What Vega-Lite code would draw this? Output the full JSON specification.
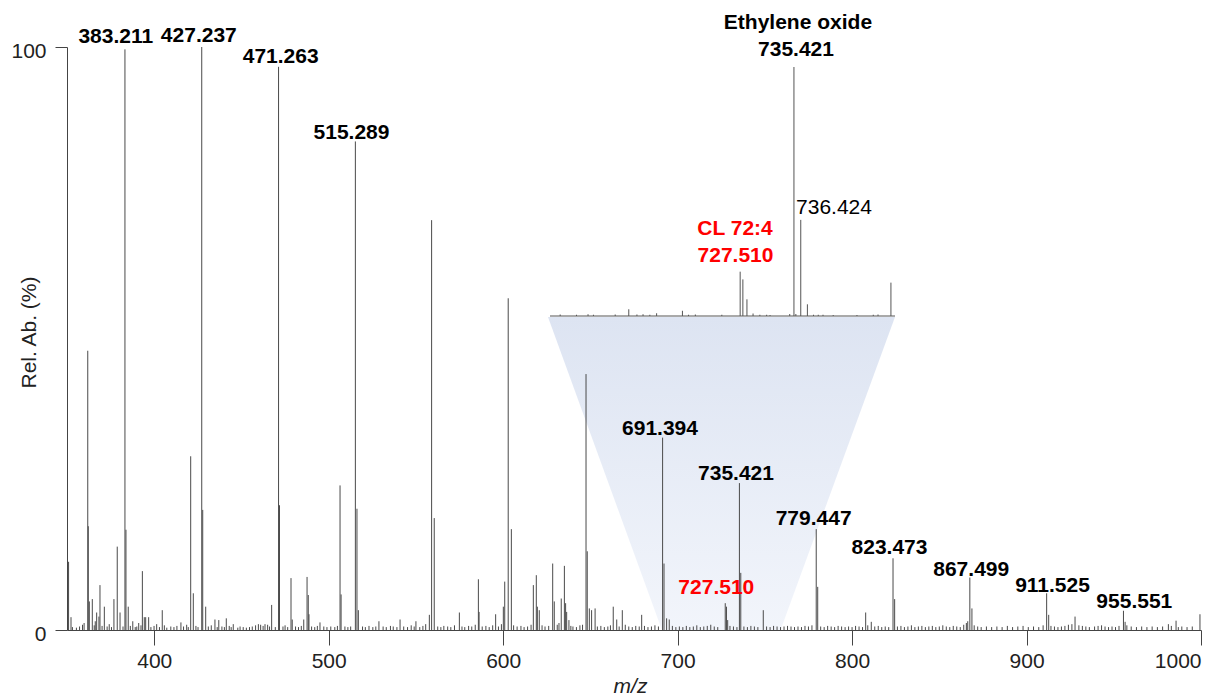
{
  "$schema": "https://vega.github.io/schema/vega-lite/v6.json",
  "width": 1134,
  "height": 583,
  "autosize": {"type": "none"},
  "padding": {"left": 67, "top": 47, "right": 24, "bottom": 68},
  "background": "white",
  "config": {"view": {"stroke": null}, "font": "Liberation Sans"},
  "datasets": {
    "peaks": [
      {"mz": 350.9, "ab": 11.7}, {"mz": 352.3, "ab": 2.2}, {"mz": 361.9, "ab": 47.9}, {"mz": 362.2, "ab": 17.8},
      {"mz": 362.8, "ab": 4.9}, {"mz": 364.5, "ab": 5.3}, {"mz": 367.0, "ab": 3.0}, {"mz": 368.3, "ab": 2.3},
      {"mz": 368.9, "ab": 7.7}, {"mz": 371.4, "ab": 4.0}, {"mz": 376.9, "ab": 5.3}, {"mz": 378.8, "ab": 14.3},
      {"mz": 380.4, "ab": 3.0}, {"mz": 383.211, "ab": 99.6}, {"mz": 383.8, "ab": 17.2}, {"mz": 385.1, "ab": 4.0},
      {"mz": 387.7, "ab": 1.5}, {"mz": 391.1, "ab": 1.2}, {"mz": 393.2, "ab": 10.1}, {"mz": 394.3, "ab": 2.2},
      {"mz": 395.1, "ab": 2.2}, {"mz": 396.8, "ab": 2.2}, {"mz": 401.4, "ab": 1.0}, {"mz": 404.6, "ab": 3.4},
      {"mz": 415.3, "ab": 1.3}, {"mz": 418.6, "ab": 0.9}, {"mz": 420.9, "ab": 29.8}, {"mz": 422.4, "ab": 6.3},
      {"mz": 427.237, "ab": 100}, {"mz": 427.8, "ab": 20.6}, {"mz": 429.5, "ab": 4.0}, {"mz": 434.8, "ab": 1.8},
      {"mz": 437.0, "ab": 1.7}, {"mz": 441.3, "ab": 2.0}, {"mz": 445.3, "ab": 1.0}, {"mz": 459.7, "ab": 1.0},
      {"mz": 463.5, "ab": 1.0}, {"mz": 467.3, "ab": 4.3}, {"mz": 471.263, "ab": 96.6}, {"mz": 471.8, "ab": 21.4},
      {"mz": 478.4, "ab": 8.9}, {"mz": 479.1, "ab": 1.8}, {"mz": 485.7, "ab": 1.8}, {"mz": 487.6, "ab": 9.1},
      {"mz": 488.3, "ab": 6.0}, {"mz": 488.7, "ab": 2.7}, {"mz": 495.0, "ab": 1.3}, {"mz": 506.5, "ab": 24.8},
      {"mz": 507.1, "ab": 6.1}, {"mz": 515.289, "ab": 83.8}, {"mz": 516.2, "ab": 20.8}, {"mz": 517.0, "ab": 3.4},
      {"mz": 528.8, "ab": 1.5}, {"mz": 540.9, "ab": 1.8}, {"mz": 550.0, "ab": 1.5}, {"mz": 557.7, "ab": 2.6},
      {"mz": 559.0, "ab": 70.3}, {"mz": 560.5, "ab": 19.2}, {"mz": 574.9, "ab": 3.0}, {"mz": 585.8, "ab": 8.7},
      {"mz": 586.2, "ab": 3.1}, {"mz": 595.7, "ab": 2.7}, {"mz": 600.1, "ab": 4.0}, {"mz": 600.9, "ab": 8.3},
      {"mz": 602.9, "ab": 56.9}, {"mz": 604.7, "ab": 17.3}, {"mz": 617.3, "ab": 7.7}, {"mz": 619.0, "ab": 9.4},
      {"mz": 619.6, "ab": 4.0}, {"mz": 620.7, "ab": 3.4}, {"mz": 628.4, "ab": 11.4}, {"mz": 629.3, "ab": 4.9},
      {"mz": 633.3, "ab": 5.4}, {"mz": 635.1, "ab": 11.0}, {"mz": 635.8, "ab": 4.6}, {"mz": 636.4, "ab": 3.1},
      {"mz": 637.7, "ab": 1.7}, {"mz": 647.5, "ab": 43.9}, {"mz": 648.2, "ab": 13.5}, {"mz": 649.4, "ab": 3.7},
      {"mz": 650.7, "ab": 3.4}, {"mz": 652.7, "ab": 3.7}, {"mz": 663.1, "ab": 4.0}, {"mz": 665.1, "ab": 1.8},
      {"mz": 668.3, "ab": 3.4}, {"mz": 679.4, "ab": 2.6}, {"mz": 691.394, "ab": 33.0}, {"mz": 692.2, "ab": 11.4},
      {"mz": 693.7, "ab": 2.0}, {"mz": 695.2, "ab": 1.8}, {"mz": 727.3, "ab": 4.6}, {"mz": 728.0, "ab": 4.0},
      {"mz": 728.7, "ab": 1.7}, {"mz": 735.421, "ab": 25.2}, {"mz": 736.2, "ab": 9.8}, {"mz": 749.1, "ab": 3.4},
      {"mz": 779.447, "ab": 17.3}, {"mz": 780.3, "ab": 7.4}, {"mz": 807.8, "ab": 3.0}, {"mz": 811.0, "ab": 1.4},
      {"mz": 823.473, "ab": 12.3}, {"mz": 824.4, "ab": 5.3}, {"mz": 866.3, "ab": 1.5}, {"mz": 867.499, "ab": 9.0},
      {"mz": 868.7, "ab": 3.7}, {"mz": 911.525, "ab": 6.3}, {"mz": 912.7, "ab": 2.6}, {"mz": 927.8, "ab": 2.3},
      {"mz": 955.551, "ab": 3.3}, {"mz": 956.5, "ab": 1.4}, {"mz": 981.3, "ab": 1.0}, {"mz": 985.7, "ab": 1.6},
      {"mz": 999.4, "ab": 2.7},
      {"mz": 353.1, "ab": 0.5}, {"mz": 355.4, "ab": 0.4}, {"mz": 357.2, "ab": 0.6}, {"mz": 358.9, "ab": 0.9},
      {"mz": 359.8, "ab": 1.2}, {"mz": 365.6, "ab": 0.8}, {"mz": 366.2, "ab": 1.5}, {"mz": 370.1, "ab": 0.7},
      {"mz": 373.0, "ab": 0.6}, {"mz": 374.2, "ab": 1.0}, {"mz": 375.5, "ab": 0.5}, {"mz": 382.1, "ab": 0.6},
      {"mz": 386.3, "ab": 0.7}, {"mz": 389.1, "ab": 0.5}, {"mz": 390.0, "ab": 0.6}, {"mz": 392.4, "ab": 0.8},
      {"mz": 398.1, "ab": 0.5}, {"mz": 399.9, "ab": 0.7}, {"mz": 403.0, "ab": 0.5}, {"mz": 405.8, "ab": 0.8},
      {"mz": 407.2, "ab": 0.4}, {"mz": 409.5, "ab": 0.6}, {"mz": 411.3, "ab": 0.5}, {"mz": 413.0, "ab": 0.7},
      {"mz": 416.8, "ab": 0.6}, {"mz": 419.5, "ab": 0.5}, {"mz": 423.9, "ab": 0.7}, {"mz": 425.1, "ab": 0.5},
      {"mz": 431.0, "ab": 0.6}, {"mz": 432.7, "ab": 0.8}, {"mz": 436.1, "ab": 0.5}, {"mz": 438.8, "ab": 0.6},
      {"mz": 440.2, "ab": 0.5}, {"mz": 443.0, "ab": 0.7}, {"mz": 444.1, "ab": 0.5}, {"mz": 447.9, "ab": 0.4},
      {"mz": 449.2, "ab": 0.6}, {"mz": 451.0, "ab": 0.5}, {"mz": 452.8, "ab": 0.4}, {"mz": 454.6, "ab": 0.5},
      {"mz": 456.2, "ab": 0.6}, {"mz": 458.1, "ab": 0.8}, {"mz": 461.0, "ab": 0.9}, {"mz": 462.4, "ab": 0.7},
      {"mz": 465.0, "ab": 0.9}, {"mz": 466.1, "ab": 0.6}, {"mz": 469.4, "ab": 0.5}, {"mz": 473.8, "ab": 0.6},
      {"mz": 475.0, "ab": 0.8}, {"mz": 476.5, "ab": 0.5}, {"mz": 481.0, "ab": 0.6}, {"mz": 482.7, "ab": 0.5},
      {"mz": 484.3, "ab": 0.7}, {"mz": 490.2, "ab": 0.6}, {"mz": 492.0, "ab": 0.5}, {"mz": 493.5, "ab": 0.7},
      {"mz": 497.2, "ab": 0.6}, {"mz": 499.0, "ab": 0.5}, {"mz": 501.2, "ab": 0.6}, {"mz": 503.5, "ab": 0.5},
      {"mz": 505.0, "ab": 0.7}, {"mz": 509.3, "ab": 0.6}, {"mz": 511.0, "ab": 0.5}, {"mz": 512.6, "ab": 0.6},
      {"mz": 519.4, "ab": 0.6}, {"mz": 521.0, "ab": 0.5}, {"mz": 523.1, "ab": 0.7}, {"mz": 525.3, "ab": 0.5},
      {"mz": 527.0, "ab": 0.6}, {"mz": 531.2, "ab": 0.6}, {"mz": 533.0, "ab": 0.5}, {"mz": 535.4, "ab": 0.7},
      {"mz": 537.0, "ab": 0.6}, {"mz": 539.1, "ab": 0.5}, {"mz": 543.0, "ab": 0.6}, {"mz": 545.2, "ab": 0.5},
      {"mz": 547.3, "ab": 0.8}, {"mz": 549.0, "ab": 0.6}, {"mz": 552.2, "ab": 0.5}, {"mz": 554.0, "ab": 0.7},
      {"mz": 555.6, "ab": 1.0}, {"mz": 562.5, "ab": 0.6}, {"mz": 564.3, "ab": 0.5}, {"mz": 566.0, "ab": 0.7},
      {"mz": 568.2, "ab": 0.6}, {"mz": 570.0, "ab": 0.5}, {"mz": 572.1, "ab": 0.8}, {"mz": 576.4, "ab": 0.6},
      {"mz": 578.0, "ab": 0.5}, {"mz": 580.2, "ab": 0.7}, {"mz": 582.0, "ab": 0.6}, {"mz": 584.0, "ab": 0.9},
      {"mz": 588.0, "ab": 0.6}, {"mz": 590.1, "ab": 0.7}, {"mz": 592.0, "ab": 0.5}, {"mz": 594.0, "ab": 0.8},
      {"mz": 597.3, "ab": 0.6}, {"mz": 599.0, "ab": 1.0}, {"mz": 606.0, "ab": 0.8}, {"mz": 608.0, "ab": 0.6},
      {"mz": 610.2, "ab": 0.7}, {"mz": 612.0, "ab": 0.5}, {"mz": 614.0, "ab": 0.6}, {"mz": 616.0, "ab": 0.9},
      {"mz": 622.3, "ab": 0.8}, {"mz": 624.0, "ab": 0.6}, {"mz": 626.1, "ab": 0.7}, {"mz": 631.0, "ab": 0.9},
      {"mz": 632.0, "ab": 1.2}, {"mz": 638.8, "ab": 0.7}, {"mz": 640.0, "ab": 0.6}, {"mz": 642.0, "ab": 0.5},
      {"mz": 644.0, "ab": 0.8}, {"mz": 645.5, "ab": 0.9}, {"mz": 654.0, "ab": 0.6}, {"mz": 656.0, "ab": 0.7},
      {"mz": 658.0, "ab": 0.5}, {"mz": 660.0, "ab": 0.6}, {"mz": 661.5, "ab": 0.8}, {"mz": 666.5, "ab": 0.6},
      {"mz": 670.0, "ab": 0.9}, {"mz": 672.0, "ab": 0.6}, {"mz": 674.0, "ab": 0.5}, {"mz": 676.0, "ab": 0.7},
      {"mz": 678.0, "ab": 0.6}, {"mz": 681.0, "ab": 0.7}, {"mz": 683.0, "ab": 0.5}, {"mz": 685.0, "ab": 0.6},
      {"mz": 687.0, "ab": 0.8}, {"mz": 689.0, "ab": 0.6}, {"mz": 697.0, "ab": 0.7}, {"mz": 699.0, "ab": 0.5},
      {"mz": 701.0, "ab": 0.6}, {"mz": 703.0, "ab": 0.5}, {"mz": 705.0, "ab": 0.7}, {"mz": 707.0, "ab": 0.5},
      {"mz": 709.0, "ab": 0.6}, {"mz": 711.0, "ab": 0.8}, {"mz": 713.0, "ab": 0.5}, {"mz": 715.0, "ab": 0.6},
      {"mz": 717.0, "ab": 0.7}, {"mz": 719.0, "ab": 0.9}, {"mz": 721.0, "ab": 0.6}, {"mz": 723.0, "ab": 0.5},
      {"mz": 730.0, "ab": 0.7}, {"mz": 732.0, "ab": 0.6}, {"mz": 734.0, "ab": 0.5}, {"mz": 738.0, "ab": 0.6},
      {"mz": 740.0, "ab": 0.5}, {"mz": 742.0, "ab": 0.7}, {"mz": 744.0, "ab": 0.6}, {"mz": 746.0, "ab": 0.5},
      {"mz": 751.0, "ab": 0.6}, {"mz": 753.0, "ab": 0.5}, {"mz": 755.0, "ab": 0.7}, {"mz": 757.0, "ab": 0.6},
      {"mz": 759.0, "ab": 0.5}, {"mz": 761.0, "ab": 0.6}, {"mz": 763.0, "ab": 0.7}, {"mz": 765.0, "ab": 0.6},
      {"mz": 767.0, "ab": 0.5}, {"mz": 769.0, "ab": 0.6}, {"mz": 771.0, "ab": 0.5}, {"mz": 773.0, "ab": 0.7},
      {"mz": 775.0, "ab": 0.6}, {"mz": 777.0, "ab": 0.8}, {"mz": 782.0, "ab": 0.6}, {"mz": 784.0, "ab": 0.5},
      {"mz": 786.0, "ab": 0.7}, {"mz": 788.0, "ab": 0.6}, {"mz": 790.0, "ab": 0.5}, {"mz": 792.0, "ab": 0.7},
      {"mz": 794.0, "ab": 0.6}, {"mz": 796.0, "ab": 0.5}, {"mz": 798.0, "ab": 0.6}, {"mz": 800.0, "ab": 0.5},
      {"mz": 802.0, "ab": 0.7}, {"mz": 804.0, "ab": 0.6}, {"mz": 806.0, "ab": 0.5}, {"mz": 809.0, "ab": 0.8},
      {"mz": 813.0, "ab": 0.6}, {"mz": 815.0, "ab": 0.7}, {"mz": 817.0, "ab": 0.5}, {"mz": 819.0, "ab": 0.6},
      {"mz": 821.0, "ab": 0.5}, {"mz": 826.0, "ab": 0.6}, {"mz": 828.0, "ab": 0.7}, {"mz": 830.0, "ab": 0.5},
      {"mz": 832.0, "ab": 0.6}, {"mz": 834.0, "ab": 0.8}, {"mz": 836.0, "ab": 0.5}, {"mz": 838.0, "ab": 0.6},
      {"mz": 840.0, "ab": 0.7}, {"mz": 842.0, "ab": 0.5}, {"mz": 844.0, "ab": 0.6}, {"mz": 846.0, "ab": 0.7},
      {"mz": 848.0, "ab": 0.5}, {"mz": 850.0, "ab": 0.6}, {"mz": 852.0, "ab": 0.8}, {"mz": 854.0, "ab": 0.6},
      {"mz": 856.0, "ab": 0.5}, {"mz": 858.0, "ab": 0.7}, {"mz": 860.0, "ab": 0.6}, {"mz": 862.0, "ab": 0.5},
      {"mz": 864.0, "ab": 0.9}, {"mz": 865.5, "ab": 1.2}, {"mz": 870.0, "ab": 0.8}, {"mz": 872.0, "ab": 0.6},
      {"mz": 874.0, "ab": 0.5}, {"mz": 877.0, "ab": 0.6}, {"mz": 880.0, "ab": 0.5}, {"mz": 883.0, "ab": 0.6},
      {"mz": 886.0, "ab": 0.5}, {"mz": 889.0, "ab": 0.7}, {"mz": 892.0, "ab": 0.5}, {"mz": 895.0, "ab": 0.6},
      {"mz": 898.0, "ab": 0.7}, {"mz": 901.0, "ab": 0.5}, {"mz": 904.0, "ab": 0.6}, {"mz": 907.0, "ab": 0.5},
      {"mz": 909.5, "ab": 0.8}, {"mz": 914.0, "ab": 0.7}, {"mz": 916.0, "ab": 0.6}, {"mz": 918.0, "ab": 0.5},
      {"mz": 920.0, "ab": 0.6}, {"mz": 922.0, "ab": 0.7}, {"mz": 924.0, "ab": 0.9}, {"mz": 926.0, "ab": 1.0},
      {"mz": 930.0, "ab": 0.8}, {"mz": 932.0, "ab": 0.7}, {"mz": 934.0, "ab": 0.6}, {"mz": 936.0, "ab": 0.5},
      {"mz": 939.0, "ab": 0.6}, {"mz": 941.0, "ab": 0.7}, {"mz": 943.0, "ab": 0.8}, {"mz": 945.0, "ab": 0.6},
      {"mz": 947.0, "ab": 0.5}, {"mz": 949.0, "ab": 0.6}, {"mz": 951.0, "ab": 0.5}, {"mz": 953.0, "ab": 0.7},
      {"mz": 957.5, "ab": 0.8}, {"mz": 960.0, "ab": 0.6}, {"mz": 963.0, "ab": 0.5}, {"mz": 966.0, "ab": 0.6},
      {"mz": 969.0, "ab": 0.5}, {"mz": 972.0, "ab": 0.6}, {"mz": 975.0, "ab": 0.5}, {"mz": 978.0, "ab": 0.6},
      {"mz": 983.0, "ab": 0.7}, {"mz": 987.0, "ab": 0.5}, {"mz": 989.0, "ab": 0.6}, {"mz": 992.0, "ab": 0.5},
      {"mz": 995.0, "ab": 0.6}
    ],
    "funnel": [
      {"fy": 0, "fl": 691.0, "fr": 759.0},
      {"fy": 53.7, "fl": 625.7, "fr": 824.6}
    ],
    "labels": [
      {"t": "383.211", "lx": 377.97, "ly": 101.7, "c": "k"},
      {"t": "427.237", "lx": 425.55, "ly": 101.9, "c": "k"},
      {"t": "471.263", "lx": 472.49, "ly": 98.2, "c": "k"},
      {"t": "515.289", "lx": 513.07, "ly": 85.3, "c": "k"},
      {"t": "Ethylene oxide", "lx": 768.98, "ly": 104.1, "c": "k"},
      {"t": "735.421", "lx": 767.86, "ly": 99.5, "c": "k"},
      {"t": "CL 72:4", "lx": 732.89, "ly": 68.8, "c": "r"},
      {"t": "727.510", "lx": 733.18, "ly": 64.2, "c": "r"},
      {"t": "691.394", "lx": 689.9, "ly": 34.5, "c": "k"},
      {"t": "735.421", "lx": 733.46, "ly": 26.8, "c": "k"},
      {"t": "727.510", "lx": 722.17, "ly": 7.2, "c": "r"},
      {"t": "779.447", "lx": 777.97, "ly": 19.0, "c": "k"},
      {"t": "823.473", "lx": 821.46, "ly": 14.0, "c": "k"},
      {"t": "867.499", "lx": 868.29, "ly": 10.3, "c": "k"},
      {"t": "911.525", "lx": 914.89, "ly": 7.6, "c": "k"},
      {"t": "955.551", "lx": 961.78, "ly": 4.8, "c": "k"}
    ],
    "plainlabels": [
      {"t": "736.424", "lx": 789.64, "ly": 72.4}
    ],
    "inset": [
      {"imz": 701.0, "iab": 0.6}, {"imz": 703.4, "iab": 0.5}, {"imz": 705.1, "iab": 0.7}, {"imz": 705.9, "iab": 0.5},
      {"imz": 709.1, "iab": 0.6}, {"imz": 711.1, "iab": 2.7}, {"imz": 712.3, "iab": 0.6}, {"imz": 713.2, "iab": 0.7},
      {"imz": 714.2, "iab": 0.5}, {"imz": 715.2, "iab": 1.1}, {"imz": 719.0, "iab": 2.1}, {"imz": 719.9, "iab": 0.5},
      {"imz": 720.9, "iab": 0.6}, {"imz": 724.8, "iab": 0.5}, {"imz": 727.5, "iab": 17.8}, {"imz": 727.9, "iab": 14.7},
      {"imz": 728.5, "iab": 6.7}, {"imz": 729.4, "iab": 1.0}, {"imz": 730.4, "iab": 0.5}, {"imz": 731.4, "iab": 0.5},
      {"imz": 731.9, "iab": 0.4}, {"imz": 734.8, "iab": 0.8}, {"imz": 735.421, "iab": 100}, {"imz": 735.7, "iab": 0.8},
      {"imz": 736.424, "iab": 38.6}, {"imz": 737.4, "iab": 4.7}, {"imz": 738.3, "iab": 0.5}, {"imz": 739.0, "iab": 0.5},
      {"imz": 739.7, "iab": 0.5}, {"imz": 741.2, "iab": 0.4}, {"imz": 744.7, "iab": 0.4}, {"imz": 747.1, "iab": 0.5},
      {"imz": 747.8, "iab": 0.6}, {"imz": 749.7, "iab": 13.4}
    ]
  },
  "layer": [
    {
      "layer": [
        {
          "data": {"name": "funnel"},
          "mark": {
            "type": "area",
            "orient": "horizontal",
            "color": {
              "gradient": "linear",
              "x1": 0, "y1": 0, "x2": 0, "y2": 1,
              "stops": [
                {"offset": 0, "color": "#dde4f2"},
                {"offset": 1, "color": "#f2f5fb"}
              ]
            }
          },
          "encoding": {
            "y": {"field": "fy", "type": "quantitative", "title": "Rel. Ab. (%)", "scale": {"domain": [0, 100], "nice": false, "zero": false}},
            "x": {"field": "fl", "type": "quantitative", "title": "m/z", "scale": {"domain": [350, 1000], "nice": false, "zero": false}},
            "x2": {"field": "fr"}
          }
        },
        {
          "data": {"name": "peaks"},
          "mark": {"type": "rule", "color": "#4a4a4a", "strokeWidth": 1},
          "encoding": {
            "x": {
              "field": "mz", "type": "quantitative", "title": "m/z",
              "scale": {"domain": [350, 1000], "nice": false, "zero": false},
              "axis": {
                "values": [400, 500, 600, 700, 800, 900, 1000],
                "format": "d",
                "grid": false,
                "domainColor": "#444",
                "tickColor": "#444",
                "tickSize": 15,
                "labelFontSize": 21,
                "labelFont": "Liberation Sans",
                "labelColor": "#222",
                "labelPadding": 5,
                "titleFont": "Liberation Sans",
                "titleFontSize": 21,
                "titleFontStyle": "italic",
                "titleFontWeight": "normal",
                "titleColor": "#222",
                "titleX": 563,
                "titleY": 56,
                "titleAlign": "center",
                "titleBaseline": "middle"
              }
            },
            "y": {
              "field": "ab", "type": "quantitative", "title": "Rel. Ab. (%)",
              "scale": {"domain": [0, 100], "nice": false, "zero": false},
              "axis": {
                "values": [0, 100],
                "grid": false,
                "domainColor": "#444",
                "tickColor": "#444",
                "tickSize": 12,
                "labelFontSize": 21,
                "labelFont": "Liberation Sans",
                "labelColor": "#222",
                "labelPadding": 9,
                "labelOffset": 4,
                "titleFont": "Liberation Sans",
                "titleFontSize": 21,
                "titleFontWeight": "normal",
                "titleColor": "#222",
                "titleAngle": -90,
                "titleX": -38,
                "titleY": 285,
                "titleAlign": "center",
                "titleBaseline": "middle"
              }
            },
            "y2": {"datum": 0}
          }
        },
        {
          "data": {"name": "labels"},
          "mark": {"type": "text", "font": "Liberation Sans", "fontSize": 21, "fontWeight": "bold", "align": "center", "baseline": "middle"},
          "encoding": {
            "x": {"field": "lx", "type": "quantitative", "title": "m/z", "scale": {"domain": [350, 1000], "nice": false, "zero": false}},
            "y": {"field": "ly", "type": "quantitative", "title": "Rel. Ab. (%)", "scale": {"domain": [0, 100], "nice": false, "zero": false}},
            "text": {"field": "t"},
            "color": {"field": "c", "type": "nominal", "scale": {"domain": ["k", "r"], "range": ["#000000", "#ff0000"]}, "legend": null}
          }
        },
        {
          "data": {"name": "plainlabels"},
          "mark": {"type": "text", "font": "Liberation Sans", "fontSize": 21, "fontWeight": "normal", "align": "center", "baseline": "middle", "color": "#000000"},
          "encoding": {
            "x": {"field": "lx", "type": "quantitative", "title": "m/z", "scale": {"domain": [350, 1000], "nice": false, "zero": false}},
            "y": {"field": "ly", "type": "quantitative", "title": "Rel. Ab. (%)", "scale": {"domain": [0, 100], "nice": false, "zero": false}},
            "text": {"field": "t"}
          }
        }
      ]
    },
    {
      "layer": [
        {
          "data": {"name": "inset"},
          "mark": {"type": "rule", "color": "#555555", "strokeWidth": 1},
          "encoding": {
            "x": {"field": "imz", "type": "quantitative", "scale": {"domain": [699.5, 750.3], "range": [483, 828], "nice": false, "zero": false}, "axis": null},
            "y": {"field": "iab", "type": "quantitative", "scale": {"domain": [0, 100], "range": [269, 20], "nice": false, "zero": false}, "axis": null},
            "y2": {"datum": 0}
          }
        },
        {
          "data": {"values": [{"a": 699.5, "b": 750.3, "z": 0}]},
          "mark": {"type": "rule", "color": "#555555", "strokeWidth": 1},
          "encoding": {
            "x": {"field": "a", "type": "quantitative", "scale": {"domain": [699.5, 750.3], "range": [483, 828], "nice": false, "zero": false}, "axis": null},
            "x2": {"field": "b"},
            "y": {"field": "z", "type": "quantitative", "scale": {"domain": [0, 100], "range": [269, 20], "nice": false, "zero": false}, "axis": null}
          }
        }
      ]
    }
  ],
  "resolve": {"scale": {"x": "independent", "y": "independent", "color": "independent"}}
}
